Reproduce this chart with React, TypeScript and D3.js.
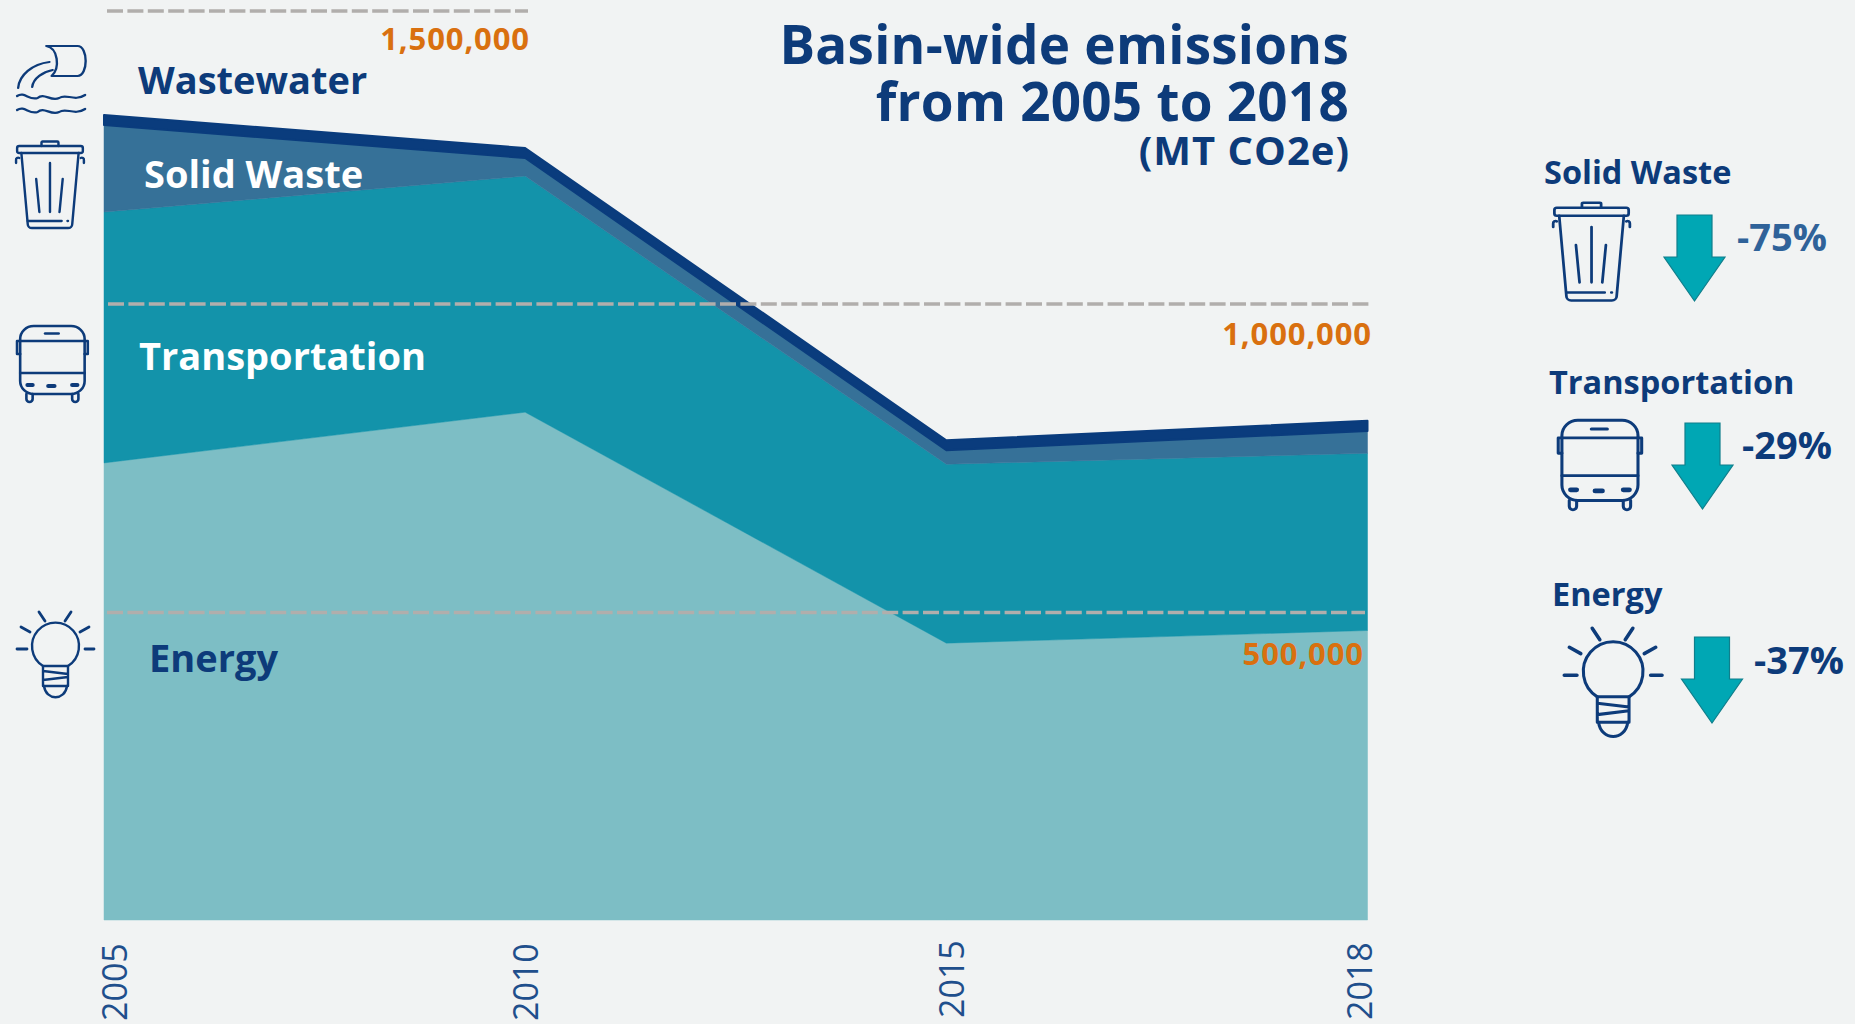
import { useMemo } from 'react';
import * as d3 from 'd3';

const years = ['2005', '2010', '2015', '2018'];
const sectors = ['Energy', 'Transportation', 'Solid Waste', 'Wastewater'];
const energy = [742500, 824700, 450200, 470800];
const transportation = [414500, 393700, 290100, 287300];
const solidWaste = [148500, 30700, 22700, 36200];
const wastewater = [17000, 17100, 16200, 16300];
const gridValues = [500000, 1000000, 1500000];
const changeSectors = ['Solid Waste', 'Transportation', 'Energy'];
const changeValues = ['-75%', '-29%', '-37%'];

const FONT = '"Open Sans", sans-serif';
const NAVY = '#0d3b7a';
const ORANGE = '#d9700f';
const fills: Record<string, string> = {
  Energy: '#7dbec5',
  Transportation: '#1393aa',
  'Solid Waste': '#367198',
  Wastewater: '#0a3c7d',
};

const Trash = ({ x, y, k }: { x: number; y: number; k: number }) => (
  <g transform={`translate(${x},${y}) scale(${k * 1.06},${k})`} fill="none" stroke={NAVY} strokeWidth={2.3} strokeLinecap="round" strokeLinejoin="round">
    <path d="M25,6V2.500a1,1 0 0 1 1,-1H40a1,1 0 0 1 1,1V6" />
    <rect x={2} y={6} width={62} height={7} rx={2} />
    <path d="M1,23V20a2,2 0 0 1 3,-2M65,23V20a2,2 0 0 0 -3,-2" />
    <path d="M6,13L12,84a4,4 0 0 0 4,4H50a4,4 0 0 0 4,-4L60,13" />
    <path d="M12,81H44M49.500,81H50M33,23V72M20,39L23,72M45,39L42,72" />
  </g>
);

const Bus = ({ x, y, k }: { x: number; y: number; k: number }) => (
  <g transform={`translate(${x},${y}) scale(${k * 1.04},${k})`} fill="none" stroke={NAVY} strokeWidth={2.5} strokeLinecap="round" strokeLinejoin="round">
    <rect x={4} y={1} width={62} height={68} rx={13} />
    <path d="M4,16H66M4,48H66" />
    <path d="M4,16H1V29H4M66,16H69V29H66" />
    <path d="M28,8.500H41" strokeWidth={2.6} />
    <path d="M11,60H16M54,60H59M31,61H37" strokeWidth={4} />
    <path d="M10,69V74a3,3 0 0 0 6,0V69M54,69V74a3,3 0 0 0 6,0V69" />
  </g>
);

const Bulb = ({ x, y, k }: { x: number; y: number; k: number }) => (
  <g transform={`translate(${x},${y}) scale(${k})`} fill="none" stroke={NAVY} strokeWidth={2.4} strokeLinecap="round" strokeLinejoin="round">
    <path d="M23,1L29,10M55,1L49,10M5,16L14,21M73,16L64,21M1,38H11M69,38H78" strokeWidth={2.8} />
    <path d="M27,55A23.500,23.500 0 1 1 52,55" />
    <path d="M27,55V75H52V55ZM27,60L52,63M27,69L52,66" />
    <path d="M28,75C30,90 49,90 51,75" />
  </g>
);

const Pipe = ({ x, y, k }: { x: number; y: number; k: number }) => (
  <g transform={`translate(${x},${y}) scale(${k * 1.08},${k})`} fill="none" stroke={NAVY} strokeWidth={2.2} strokeLinecap="round" strokeLinejoin="round">
    <path d="M28,1H57C67,1 67,31 57,31H33C41,23 39,3 28,1Z" />
    <path d="M31,17C15,19 3,30 2,43M34,25C25,27 16,33 15,42" />
    <path d="M1,51C8,46 12,56 20,53C26,47 32,57 40,53C46,48 54,57 64,50" />
    <path d="M1,65C8,60 12,70 20,67C26,61 32,71 40,67C46,62 54,71 64,64" />
  </g>
);

const App = () => {
  const x = useMemo(() => d3.scalePoint<string>().domain(years).range([104, 1367.5]), []);
  // the artwork's top gridline sits closer than the other two, so the scale is piecewise
  const y = useMemo(() => d3.scaleLinear().domain([0, 500000, 1000000, 1500000]).range([920, 612.5, 304, 11]), []);

  const rows = years.map((year, i) => ({
    year,
    Energy: energy[i],
    Transportation: transportation[i],
    'Solid Waste': solidWaste[i],
    Wastewater: wastewater[i],
  }));
  const layers = d3.stack<any>().keys(sectors)(rows);
  const area = d3.area<any>()
    .x((d) => x(d.data.year) as number)
    .y0((d) => y(d[0]))
    .y1((d) => y(d[1]));

  // where each gridline starts and ends
  const gridStart = [107, 108, 107];
  const gridEnd = [1365, 1369, 528];
  const gridLabelX = [1364, 1372, 530];
  const gridLabelY = [665, 345, 50];
  const tickNudge = [11, 1, 6, -8];
  const tickBottom = [1021, 1021, 1018, 1020];

  const labelProps = { fontFamily: FONT, fontWeight: 700 };
  const changeLabelX = [1544, 1549, 1552];
  const changeLabelY = [184, 394, 606];
  const pctX = [1737, 1742, 1754];
  const pctY = [251, 459, 674];
  const pctFill = ['#2f6299', NAVY, NAVY];
  const arrowX = [1694.5, 1702.5, 1712];
  const arrowTop = [215, 423, 637];

  const arrow = (cx: number, top: number) => {
    const p = d3.path();
    p.moveTo(cx - 17.5, top);
    p.lineTo(cx + 17.5, top);
    p.lineTo(cx + 17.5, top + 42);
    p.lineTo(cx + 30.5, top + 42);
    p.lineTo(cx, top + 86);
    p.lineTo(cx - 30.5, top + 42);
    p.lineTo(cx - 17.5, top + 42);
    p.closePath();
    return p.toString();
  };

  return (
    <svg width={1855} height={1024} style={{ position: 'absolute', left: 0, top: 0, display: 'block', background: '#f1f3f3' }}>
      {layers.map((layer) => (
        <path
          key={layer.key}
          d={area(layer) as string}
          fill={fills[layer.key]}
          stroke={fills[layer.key]}
          strokeWidth={layer.key === 'Wastewater' ? 2 : 0.5}
          strokeLinejoin="round"
        />
      ))}

      {gridValues.map((v, i) => (
        <g key={v}>
          <line x1={gridStart[i]} x2={gridEnd[i]} y1={y(v)} y2={y(v)} stroke="#b1aeac" strokeWidth={3.6} strokeDasharray="16 4.400" />
          <text x={gridLabelX[i]} y={gridLabelY[i]} textAnchor="end" fill={ORANGE} fontSize={31} letterSpacing={0.9} {...labelProps}>
            {d3.format(',')(v)}
          </text>
        </g>
      ))}

      {years.map((year, i) => (
        <text
          key={year}
          transform={`translate(${(x(year) as number) + tickNudge[i] + 12},${tickBottom[i]}) rotate(-90)`}
          fontFamily={FONT}
          fontSize={34}
          fill="#1f4f8c"
        >
          {year}
        </text>
      ))}

      <text x={138} y={94} fontSize={38} fill={NAVY} {...labelProps}>Wastewater</text>
      <text x={144} y={188} fontSize={38} fill="#fff" {...labelProps}>Solid Waste</text>
      <text x={139} y={370} fontSize={38} fill="#fff" {...labelProps}>Transportation</text>
      <text x={149} y={672} fontSize={38} fill={NAVY} {...labelProps}>Energy</text>

      <g textAnchor="end" fill={NAVY} {...labelProps}>
        <text x={1349} y={64} fontSize={53} letterSpacing={0.25}>Basin-wide emissions</text>
        <text x={1349} y={121} fontSize={53} letterSpacing={0.25}>from 2005 to 2018</text>
        <text x={1350} y={165} fontSize={40} letterSpacing={1}>(MT CO2e)</text>
      </g>

      <Pipe x={16} y={45} k={1} />
      <Trash x={15} y={140} k={1} />
      <Bus x={16} y={325} k={1} />
      <Bulb x={16} y={611} k={1} />

      {changeSectors.map((s, i) => (
        <g key={s}>
          <text x={changeLabelX[i]} y={changeLabelY[i]} fontSize={32.5} fill={NAVY} {...labelProps}>{s}</text>
          <path d={arrow(arrowX[i], arrowTop[i])} fill="#00a7b4" stroke="#0f7f8c" strokeWidth={1.2} />
          <text x={pctX[i]} y={pctY[i]} fontSize={38} fill={pctFill[i]} {...labelProps}>{changeValues[i]}</text>
        </g>
      ))}
      <Trash x={1552} y={201} k={1.13} />
      <Bus x={1557} y={419} k={1.18} />
      <Bulb x={1563} y={627} k={1.27} />
    </svg>
  );
};

export default App;
